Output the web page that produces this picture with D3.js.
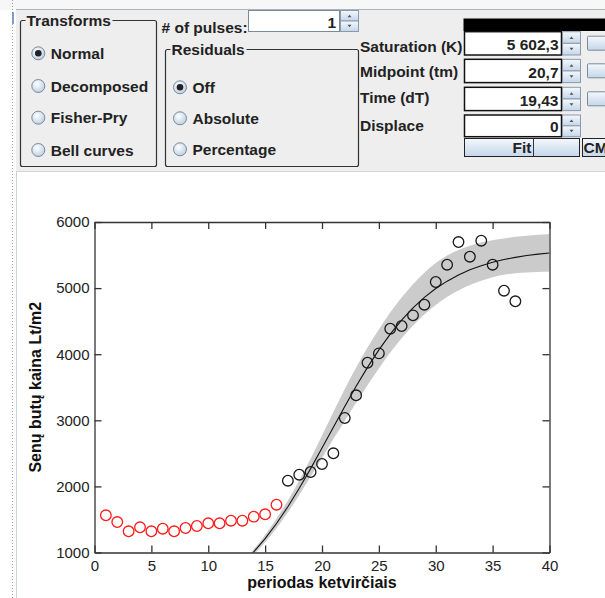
<!DOCTYPE html>
<html>
<head>
<meta charset="utf-8">
<script src="https://cdn.jsdelivr.net/npm/d3@7"></script>
<style>
    body { margin: 0; background: #fff; }
    #chart { width: 605px; height: 598px; }
    .ui { font-family: "Liberation Sans", Arial, sans-serif; font-weight: bold; font-size: 15.5px; fill: #222; }
    .tick text { font-family: "Liberation Sans", Arial, sans-serif; font-size: 15px; fill: #222; }
    .axisLabel { font-family: "Liberation Sans", Arial, sans-serif; font-weight: bold; font-size: 16px; fill: #111; }
</style>
</head>
<body>
<div id="chart"></div>
<script>
// quarters left out of the fit (red) and fitted ones (black)
const excludedX = [1, 2, 3, 4, 5, 6, 7, 8, 9, 10, 11, 12, 13, 14, 15, 16];
const excludedY = [1563, 1461, 1321, 1381, 1321, 1360, 1321, 1371, 1401, 1442, 1442, 1481, 1481, 1542, 1578, 1723];
const fittedX = [17, 18, 19, 20, 21, 22, 23, 24, 25, 26, 27, 28, 29, 30, 31, 32, 33, 34, 35, 36, 37];
const fittedY = [2086, 2177, 2218, 2339, 2501, 3035, 3378, 3871, 4013, 4386, 4427, 4588, 4749, 5092, 5354, 5697, 5475, 5717, 5354, 4961, 4800];

// fitted curve and its band
const curveX = [13, 14, 15, 16, 17, 18, 19, 20, 21, 22, 23, 24, 25, 26, 27, 28, 29, 30, 31, 32, 33, 34, 35, 36, 37, 38, 39, 40];
const curveY = [836, 1009, 1210, 1438, 1693, 1971, 2269, 2580, 2896, 3210, 3514, 3801, 4065, 4304, 4516, 4700, 4859, 4993, 5105, 5198, 5276, 5339, 5390, 5432, 5465, 5492, 5514, 5532];
const bandHigh = [866, 1049, 1265, 1513, 1788, 2091, 2419, 2770, 3126, 3475, 3799, 4101, 4375, 4629, 4856, 5060, 5234, 5378, 5495, 5578, 5641, 5689, 5725, 5752, 5775, 5792, 5806, 5818];
const bandLow = [806, 969, 1155, 1368, 1608, 1871, 2149, 2430, 2716, 2990, 3264, 3531, 3785, 4024, 4241, 4432, 4599, 4743, 4865, 4963, 5046, 5111, 5165, 5202, 5225, 5237, 5244, 5247];

const xTicks = [0, 5, 10, 15, 20, 25, 30, 35, 40];
const yTicks = [1000, 2000, 3000, 4000, 5000, 6000];

// control panel texts
const transforms = ["Normal", "Decomposed", "Fisher-Pry", "Bell curves"];
const residuals = ["Off", "Absolute", "Percentage"];
const paramLabels = ["Saturation (K)", "Midpoint (tm)", "Time (dT)", "Displace"];
const paramValues = ["5 602,3", "20,7", "19,43", "0"];

const width = 605, height = 598;
const svg = d3.select("#chart").append("svg")
    .attr("width", width)
    .attr("height", height);

const defs = svg.append("defs");
const grad = defs.append("linearGradient").attr("id", "btn").attr("x1", 0).attr("y1", 0).attr("x2", 0).attr("y2", 1);
grad.append("stop").attr("offset", 0).attr("stop-color", "#f4f8fc");
grad.append("stop").attr("offset", 1).attr("stop-color", "#c4d6ea");
const rgrad = defs.append("radialGradient").attr("id", "radio").attr("cx", 0.4).attr("cy", 0.35).attr("r", 0.7);
rgrad.append("stop").attr("offset", 0).attr("stop-color", "#ffffff");
rgrad.append("stop").attr("offset", 1).attr("stop-color", "#b9cde3");

// ---- window chrome / panel ----
svg.append("rect").attr("x", 0).attr("y", 0).attr("width", width).attr("height", 10).attr("fill", "#f7f7f7");
svg.append("rect").attr("x", 16).attr("y", 10).attr("width", width - 16).attr("height", 161).attr("fill", "#eeeeee");
svg.append("line").attr("x1", 16).attr("x2", width).attr("y1", 9.5).attr("y2", 9.5).attr("stroke", "#a9b2bd");
svg.append("line").attr("x1", 16).attr("x2", width).attr("y1", 171.5).attr("y2", 171.5).attr("stroke", "#d6d6d6");
svg.append("line").attr("x1", 12.5).attr("x2", 12.5).attr("y1", 0).attr("y2", height)
    .attr("stroke", "#9a9a9a").attr("stroke-dasharray", "1,2");
svg.append("line").attr("x1", 16.5).attr("x2", 16.5).attr("y1", 171).attr("y2", height).attr("stroke", "#c9d1db");
svg.append("line").attr("x1", 13).attr("x2", 13).attr("y1", 12).attr("y2", 24).attr("stroke", "#5d7fc0").attr("stroke-width", 1.5);

function titledBox(x, y, w, h, title, tw) {
    svg.append("rect").attr("x", x).attr("y", y).attr("width", w).attr("height", h).attr("rx", 2)
        .attr("fill", "none").attr("stroke", "#333").attr("stroke-width", 1.2);
    svg.append("rect").attr("x", x + 5).attr("y", y - 8).attr("width", tw).attr("height", 14).attr("fill", "#eeeeee");
    svg.append("text").attr("class", "ui").attr("x", x + 6).attr("y", y + 5.5).text(title);
}

function radio(cx, cy, label, selected) {
    svg.append("circle").attr("cx", cx).attr("cy", cy).attr("r", 6.5)
        .attr("fill", "url(#radio)").attr("stroke", "#7a8a99");
    if (selected) {
        svg.append("circle").attr("cx", cx).attr("cy", cy).attr("r", 3.3).attr("fill", "#222");
    }
    svg.append("text").attr("class", "ui").attr("x", cx + 12.5).attr("y", cy + 5.5).text(label);
}

function spinner(x, y, h) {
    const g = svg.append("g");
    [0, 1].forEach(function(i) {
        g.append("rect").attr("x", x + 0.5).attr("y", y + i * h / 2).attr("width", 18).attr("height", h / 2)
            .attr("fill", "url(#btn)").attr("stroke", "#8a9aab");
        const ay = y + i * h / 2 + h / 4;
        g.append("path")
            .attr("d", i == 0
                ? `M${x + 7.5},${ay + 1.5}L${x + 9.5},${ay - 1}L${x + 11.5},${ay + 1.5}Z`
                : `M${x + 7.5},${ay - 1.5}L${x + 9.5},${ay + 1}L${x + 11.5},${ay - 1.5}Z`)
            .attr("fill", "#555");
    });
}

titledBox(20.5, 20.5, 136, 146, "Transforms", 87);
transforms.forEach(function(t, i) {
    radio(38.3, [53.3, 86, 117.7, 150][i], t, i == 0);
});

titledBox(165.5, 49.5, 193, 117, "Residuals", 76);
residuals.forEach(function(t, i) {
    radio(180, [87.3, 118.3, 149.3][i], t, i == 0);
});

// pulses field
svg.append("text").attr("class", "ui").attr("x", 161.5).attr("y", 32.5).text("# of pulses:");
svg.append("rect").attr("x", 248.5).attr("y", 10.5).attr("width", 91).attr("height", 21)
    .attr("fill", "#fff").attr("stroke", "#7a8a99");
svg.append("text").attr("class", "ui").attr("x", 336).attr("y", 27.5).attr("text-anchor", "end").text("1");
spinner(340, 10.5, 21);

// parameter fields
svg.append("rect").attr("x", 463.5).attr("y", 18.5).attr("width", 142).attr("height", 12.5).attr("fill", "#000");
const fieldTop = [31.7, 59.3, 87.3, 115];
const labelBase = [51.7, 77.3, 102.7, 130.7];
paramLabels.forEach(function(lab, i) {
    const fy = fieldTop[i];
    const fh = i == 3 ? 21.7 : 23.3;
    svg.append("text").attr("class", "ui").attr("x", 360).attr("y", labelBase[i]).text(lab);
    svg.append("rect").attr("x", 464.5).attr("y", fy).attr("width", 97).attr("height", fh)
        .attr("fill", "#fff").attr("stroke", "#111").attr("stroke-width", 1.5);
    svg.append("text").attr("class", "ui").attr("x", 558.5).attr("y", fy + fh - 5).attr("text-anchor", "end").text(paramValues[i]);
    spinner(562, fy, fh);
    if (i < 3) {
        svg.append("rect").attr("x", 587.5).attr("y", fy + 4.5).attr("width", 18).attr("height", 14).attr("rx", 1)
            .attr("fill", "url(#btn)").attr("stroke", "#7a8a99");
    }
});

// buttons
svg.append("rect").attr("x", 464.5).attr("y", 138.5).attr("width", 115).attr("height", 18)
    .attr("fill", "url(#btn)").attr("stroke", "#222");
svg.append("line").attr("x1", 533.5).attr("x2", 533.5).attr("y1", 138.5).attr("y2", 156.5).attr("stroke", "#333");
svg.append("text").attr("class", "ui").attr("x", 522).attr("y", 153).attr("text-anchor", "middle").text("Fit");
svg.append("rect").attr("x", 582.5).attr("y", 138.5).attr("width", 30).attr("height", 18)
    .attr("fill", "url(#btn)").attr("stroke", "#222");
svg.append("text").attr("class", "ui").attr("x", 583.5).attr("y", 153).text("CM");

// ---- chart ----
const xScale = d3.scaleLinear().domain([0, 40]).range([94.5, 549.5]);
const yScale = d3.scaleLinear().domain([1000, 6000]).range([552.5, 222]);

defs.append("clipPath").attr("id", "plotClip")
    .append("rect").attr("x", 94.5).attr("y", 222).attr("width", 455).attr("height", 330.5);

const plot = svg.append("g").attr("clip-path", "url(#plotClip)");

const bandData = curveX.map(function(d, i) { return {x: d, lo: bandLow[i], hi: bandHigh[i], y: curveY[i]}; });

plot.append("path")
    .datum(bandData)
    .attr("fill", "#cbcbcb")
    .attr("d", d3.area()
        .x(function(d) { return xScale(d.x); })
        .y0(function(d) { return yScale(d.lo); })
        .y1(function(d) { return yScale(d.hi); })
        .curve(d3.curveMonotoneX));

plot.append("path")
    .datum(bandData)
    .attr("fill", "none")
    .attr("stroke", "#111")
    .attr("stroke-width", 1.1)
    .attr("d", d3.line()
        .x(function(d) { return xScale(d.x); })
        .y(function(d) { return yScale(d.y); }));

// axes, ticks pointing inward
const axisStyle = function(g) {
    g.selectAll("path, line").attr("stroke", "#333").attr("stroke-width", 1.3);
};

svg.append("g")
    .attr("transform", `translate(0,${yScale(1000)})`)
    .call(d3.axisBottom(xScale).tickValues(xTicks).tickFormat(d3.format("d"))
        .tickSizeInner(-7).tickSizeOuter(0).tickPadding(8))
    .call(axisStyle)
    .call(function(g) { g.selectAll("text").attr("fill", "#222"); });

svg.append("g")
    .attr("transform", `translate(0,${yScale(6000)})`)
    .call(d3.axisTop(xScale).tickValues(xTicks).tickSizeInner(-7).tickSizeOuter(0).tickFormat(""))
    .call(axisStyle);

svg.append("g")
    .attr("transform", `translate(${xScale(0)},0)`)
    .call(d3.axisLeft(yScale).tickValues(yTicks).tickFormat(d3.format("d"))
        .tickSizeInner(-7).tickSizeOuter(0).tickPadding(5))
    .call(axisStyle)
    .call(function(g) { g.selectAll("text").attr("fill", "#222"); });

svg.append("g")
    .attr("transform", `translate(${xScale(40)},0)`)
    .call(d3.axisRight(yScale).tickValues(yTicks).tickSizeInner(-7).tickSizeOuter(0).tickFormat(""))
    .call(axisStyle);

// points
svg.selectAll("circle.excluded")
    .data(excludedX)
    .enter()
    .append("circle")
        .attr("class", "excluded")
        .attr("cx", function(d) { return xScale(d); })
        .attr("cy", function(d, i) { return yScale(excludedY[i]); })
        .attr("r", 5.3)
        .attr("fill", "none")
        .attr("stroke", "#ff1a1a")
        .attr("stroke-width", 1.3);

svg.selectAll("circle.fitted")
    .data(fittedX)
    .enter()
    .append("circle")
        .attr("class", "fitted")
        .attr("cx", function(d) { return xScale(d); })
        .attr("cy", function(d, i) { return yScale(fittedY[i]); })
        .attr("r", 5.3)
        .attr("fill", "none")
        .attr("stroke", "#1a1a1a")
        .attr("stroke-width", 1.3);

// labels
svg.append("text")
    .attr("class", "axisLabel")
    .attr("x", (xScale(0) + xScale(40)) / 2)
    .attr("y", 587.5)
    .attr("text-anchor", "middle")
    .text("periodas ketvirčiais");

svg.append("text")
    .attr("class", "axisLabel")
    .attr("x", -(yScale(1000) + yScale(6000)) / 2)
    .attr("y", 41)
    .attr("text-anchor", "middle")
    .attr("transform", "rotate(-90)")
    .text("Senų butų kaina Lt/m2");
</script>
</body>
</html>
